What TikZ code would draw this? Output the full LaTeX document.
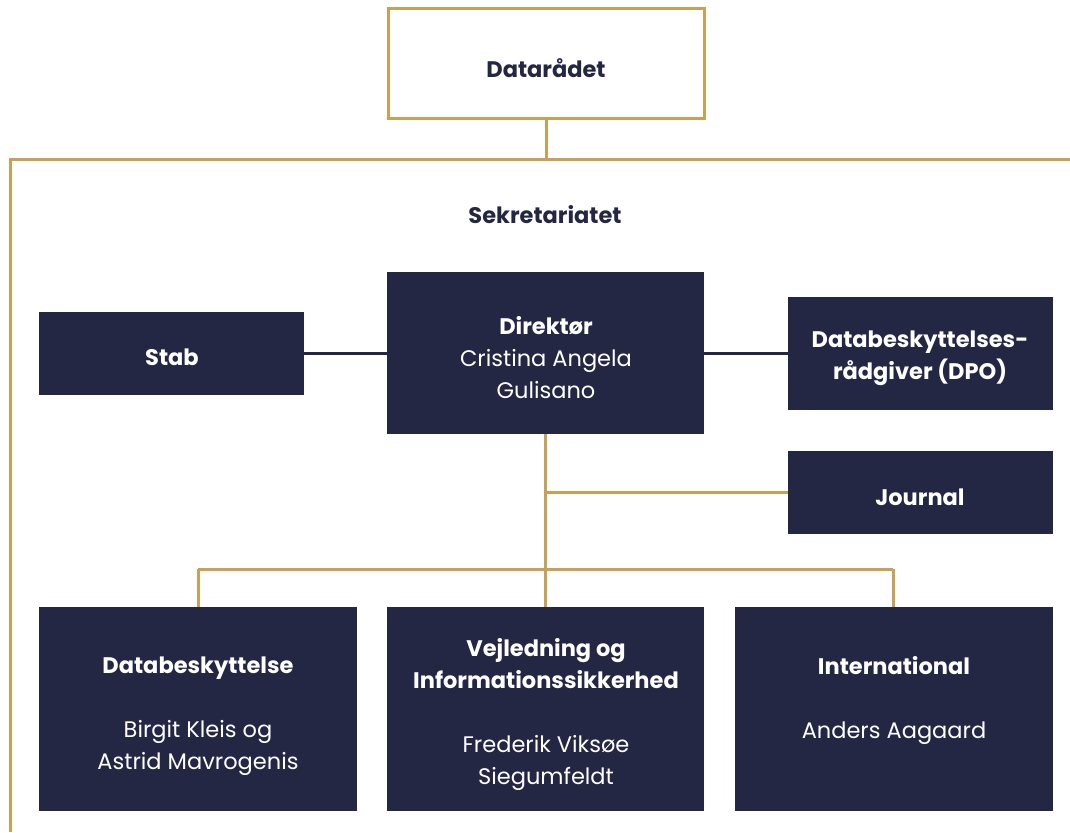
\documentclass[tikz,border=0pt]{standalone}
\usepackage{fontspec}
\setmainfont{Poppins}
\definecolor{gold}{RGB}{200,160,86}
\definecolor{navy}{RGB}{35,39,67}
\begin{document}
\begin{tikzpicture}[x=1pt,y=-1pt,
  goldline/.style={draw=gold,line width=3pt},
  navyline/.style={draw=navy,line width=3pt},
  navybox/.style={fill=navy,draw=none,inner sep=0pt},
  boxtext/.style={text=white,align=center,font=\fontsize{22.5}{32}\selectfont},
  darktext/.style={text=navy,align=center,font=\fontsize{22.5}{32}\selectfont\bfseries}]
\useasboundingbox (0,0) rectangle (1070,832);
% top box
\node[draw=gold,line width=3pt,fill=white,minimum width=316pt,minimum height=110pt,inner sep=0pt] (raad) at (546,64) {};
\node[darktext] (raadt) at (546,68) {Datarådet};
\coordinate (jL) at (10,159);
\coordinate (jR) at (1070,159);
\coordinate (jM) at (546,159);
\coordinate (bottomL) at (10,832);
\draw[goldline] (raad.south) -- (jM);
\draw[goldline] (bottomL) -- (jL) -- (jR);
\node[darktext] (sek) at (545,215) {Sekretariatet};
% boxes
\node[navybox,minimum width=317pt,minimum height=162pt] (dir) at (545.5,353) {};
\node[navybox,minimum width=265pt,minimum height=83pt] (stab) at (171.5,353.5) {};
\node[navybox,minimum width=265pt,minimum height=113pt] (dpo) at (920.5,353.5) {};
\node[navybox,minimum width=265pt,minimum height=83pt] (jour) at (920.5,492.5) {};
\node[navybox,minimum width=318pt,minimum height=204pt] (db) at (198,709) {};
\node[navybox,minimum width=317pt,minimum height=204pt] (vej) at (545.5,709) {};
\node[navybox,minimum width=318pt,minimum height=204pt] (int) at (894,709) {};
% texts
\node[boxtext] (dirt) at (546,358) {\textbf{Direktør}\\Cristina Angela\\Gulisano};
\node[boxtext] (stabt) at (172,357) {\textbf{Stab}};
\node[boxtext] (dpot) at (920,358) {\textbf{Databeskyttelses-}\\\textbf{rådgiver (DPO)}};
\node[boxtext] (jourt) at (920,497) {\textbf{Journal}};
\node[boxtext] (dbt) at (198,716.5) {\textbf{Databeskyttelse}\\[32pt]Birgit Kleis og\\Astrid Mavrogenis};
\node[boxtext] (vejt) at (546,715) {\textbf{Vejledning og}\\\textbf{Informationssikkerhed}\\[32pt]Frederik Viksøe\\Siegumfeldt};
\node[boxtext] (intt) at (894,700.5) {\textbf{International}\\[32pt]Anders Aagaard};
% connectors
\draw[navyline] (dir.west -| stab.east) -- (dir.west);
\draw[navyline] (dir.east) -- (dir.east -| dpo.west);
\coordinate (barL) at (198,569);
\coordinate (barR) at (893,569);
\draw[goldline] (dir.south) -- (vej.north);
\draw[goldline] (jour.west -| dir.south) -- (jour.west);
\draw[goldline] (barL) -- (barR);
\draw[goldline] (barL) -- (db.north -| barL);
\draw[goldline] (barR) -- (int.north -| barR);
\end{tikzpicture}
\end{document}
